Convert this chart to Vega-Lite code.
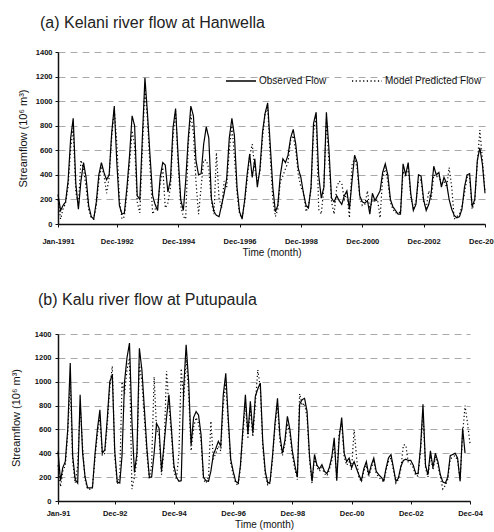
{
  "$schema": "https://vega.github.io/schema/vega-lite/v6.json",
  "background": "white",
  "padding": {"left": 10, "top": 15, "right": 0, "bottom": 0},
  "align": "none",
  "spacing": 34,
  "config": {
    "font": "Liberation Sans",
    "view": {"stroke": null},
    "axis": {
      "labelFont": "Liberation Sans", "labelFontSize": 7.5, "labelFontWeight": "bold", "labelColor": "#111",
      "titleFont": "Liberation Sans", "titleFontSize": 10, "titleFontWeight": "normal", "titleColor": "#111",
      "domainColor": "#111", "domainWidth": 1.5, "tickColor": "#111", "tickSize": 3, "labelOverlap": false
    },
    "title": {"font": "Liberation Sans", "fontSize": 16, "fontWeight": "normal", "anchor": "start", "frame": "group", "color": "#222"},
    "legend": {"labelFont": "Liberation Sans", "labelFontSize": 10, "labelColor": "#111"}
  },
  "datasets": {
    "kelani": [
      {"date":"1991-01","obs":240,"pred":200},{"date":"1991-02","obs":110,"pred":40},{"date":"1991-03","obs":150,"pred":120},{"date":"1991-04","obs":180,"pred":170},{"date":"1991-05","obs":350,"pred":300},{"date":"1991-06","obs":700,"pred":620},{"date":"1991-07","obs":860,"pred":780},{"date":"1991-08","obs":330,"pred":260},{"date":"1991-09","obs":120,"pred":150},{"date":"1991-10","obs":350,"pred":520},{"date":"1991-11","obs":500,"pred":450},{"date":"1991-12","obs":380,"pred":300},
      {"date":"1992-01","obs":150,"pred":120},{"date":"1992-02","obs":60,"pred":50},{"date":"1992-03","obs":40,"pred":40},{"date":"1992-04","obs":180,"pred":150},{"date":"1992-05","obs":400,"pred":350},{"date":"1992-06","obs":500,"pred":470},{"date":"1992-07","obs":420,"pred":400},{"date":"1992-08","obs":360,"pred":250},{"date":"1992-09","obs":400,"pred":380},{"date":"1992-10","obs":740,"pred":700},{"date":"1992-11","obs":960,"pred":930},{"date":"1992-12","obs":500,"pred":660},
      {"date":"1993-01","obs":150,"pred":200},{"date":"1993-02","obs":80,"pred":40},{"date":"1993-03","obs":90,"pred":60},{"date":"1993-04","obs":300,"pred":250},{"date":"1993-05","obs":550,"pred":480},{"date":"1993-06","obs":880,"pred":760},{"date":"1993-07","obs":800,"pred":640},{"date":"1993-08","obs":230,"pred":180},{"date":"1993-09","obs":200,"pred":90},{"date":"1993-10","obs":700,"pred":600},{"date":"1993-11","obs":1190,"pred":1100},{"date":"1993-12","obs":900,"pred":850},
      {"date":"1994-01","obs":550,"pred":450},{"date":"1994-02","obs":230,"pred":80},{"date":"1994-03","obs":160,"pred":120},{"date":"1994-04","obs":110,"pred":150},{"date":"1994-05","obs":380,"pred":330},{"date":"1994-06","obs":500,"pred":460},{"date":"1994-07","obs":480,"pred":130},{"date":"1994-08","obs":260,"pred":170},{"date":"1994-09","obs":360,"pred":300},{"date":"1994-10","obs":780,"pred":700},{"date":"1994-11","obs":940,"pred":920},{"date":"1994-12","obs":550,"pred":480},
      {"date":"1995-01","obs":200,"pred":150},{"date":"1995-02","obs":110,"pred":60},{"date":"1995-03","obs":350,"pred":40},{"date":"1995-04","obs":700,"pred":650},{"date":"1995-05","obs":960,"pred":890},{"date":"1995-06","obs":880,"pred":740},{"date":"1995-07","obs":520,"pred":350},{"date":"1995-08","obs":400,"pred":80},{"date":"1995-09","obs":410,"pred":300},{"date":"1995-10","obs":650,"pred":520},{"date":"1995-11","obs":790,"pred":520},{"date":"1995-12","obs":700,"pred":450},
      {"date":"1996-01","obs":210,"pred":180},{"date":"1996-02","obs":100,"pred":80},{"date":"1996-03","obs":70,"pred":580},{"date":"1996-04","obs":60,"pred":210},{"date":"1996-05","obs":150,"pred":130},{"date":"1996-06","obs":250,"pred":350},{"date":"1996-07","obs":370,"pred":300},{"date":"1996-08","obs":700,"pred":600},{"date":"1996-09","obs":860,"pred":800},{"date":"1996-10","obs":720,"pred":550},{"date":"1996-11","obs":300,"pred":250},{"date":"1996-12","obs":100,"pred":80},
      {"date":"1997-01","obs":40,"pred":50},{"date":"1997-02","obs":200,"pred":180},{"date":"1997-03","obs":400,"pred":350},{"date":"1997-04","obs":570,"pred":560},{"date":"1997-05","obs":380,"pred":650},{"date":"1997-06","obs":530,"pred":450},{"date":"1997-07","obs":300,"pred":350},{"date":"1997-08","obs":450,"pred":420},{"date":"1997-09","obs":750,"pred":700},{"date":"1997-10","obs":900,"pred":900},{"date":"1997-11","obs":985,"pred":950},{"date":"1997-12","obs":650,"pred":550},
      {"date":"1998-01","obs":300,"pred":200},{"date":"1998-02","obs":100,"pred":60},{"date":"1998-03","obs":150,"pred":120},{"date":"1998-04","obs":400,"pred":350},{"date":"1998-05","obs":530,"pred":390},{"date":"1998-06","obs":500,"pred":450},{"date":"1998-07","obs":560,"pred":500},{"date":"1998-08","obs":700,"pred":680},{"date":"1998-09","obs":770,"pred":720},{"date":"1998-10","obs":650,"pred":600},{"date":"1998-11","obs":450,"pred":400},{"date":"1998-12","obs":380,"pred":300},
      {"date":"1999-01","obs":250,"pred":260},{"date":"1999-02","obs":150,"pred":100},{"date":"1999-03","obs":130,"pred":150},{"date":"1999-04","obs":300,"pred":280},{"date":"1999-05","obs":820,"pred":750},{"date":"1999-06","obs":910,"pred":880},{"date":"1999-07","obs":400,"pred":120},{"date":"1999-08","obs":210,"pred":80},{"date":"1999-09","obs":300,"pred":300},{"date":"1999-10","obs":910,"pred":850},{"date":"1999-11","obs":600,"pred":500},{"date":"1999-12","obs":210,"pred":180},
      {"date":"2000-01","obs":180,"pred":80},{"date":"2000-02","obs":230,"pred":300},{"date":"2000-03","obs":190,"pred":350},{"date":"2000-04","obs":160,"pred":330},{"date":"2000-05","obs":230,"pred":200},{"date":"2000-06","obs":270,"pred":250},{"date":"2000-07","obs":120,"pred":50},{"date":"2000-08","obs":350,"pred":480},{"date":"2000-09","obs":560,"pred":540},{"date":"2000-10","obs":500,"pred":450},{"date":"2000-11","obs":230,"pred":220},{"date":"2000-12","obs":180,"pred":150},
      {"date":"2001-01","obs":170,"pred":160},{"date":"2001-02","obs":190,"pred":270},{"date":"2001-03","obs":80,"pred":120},{"date":"2001-04","obs":250,"pred":200},{"date":"2001-05","obs":190,"pred":180},{"date":"2001-06","obs":230,"pred":200},{"date":"2001-07","obs":270,"pred":50},{"date":"2001-08","obs":420,"pred":380},{"date":"2001-09","obs":490,"pred":460},{"date":"2001-10","obs":400,"pred":350},{"date":"2001-11","obs":200,"pred":180},{"date":"2001-12","obs":140,"pred":120},
      {"date":"2002-01","obs":110,"pred":90},{"date":"2002-02","obs":80,"pred":100},{"date":"2002-03","obs":80,"pred":90},{"date":"2002-04","obs":490,"pred":430},{"date":"2002-05","obs":400,"pred":380},{"date":"2002-06","obs":500,"pred":470},{"date":"2002-07","obs":250,"pred":220},{"date":"2002-08","obs":110,"pred":130},{"date":"2002-09","obs":160,"pred":180},{"date":"2002-10","obs":400,"pred":350},{"date":"2002-11","obs":390,"pred":360},{"date":"2002-12","obs":200,"pred":180},
      {"date":"2003-01","obs":110,"pred":130},{"date":"2003-02","obs":160,"pred":270},{"date":"2003-03","obs":250,"pred":200},{"date":"2003-04","obs":470,"pred":400},{"date":"2003-05","obs":400,"pred":380},{"date":"2003-06","obs":420,"pred":400},{"date":"2003-07","obs":300,"pred":320},{"date":"2003-08","obs":380,"pred":350},{"date":"2003-09","obs":330,"pred":300},{"date":"2003-10","obs":200,"pred":460},{"date":"2003-11","obs":120,"pred":300},{"date":"2003-12","obs":70,"pred":40},
      {"date":"2004-01","obs":50,"pred":60},{"date":"2004-02","obs":60,"pred":80},{"date":"2004-03","obs":120,"pred":140},{"date":"2004-04","obs":300,"pred":250},{"date":"2004-05","obs":400,"pred":380},{"date":"2004-06","obs":410,"pred":380},{"date":"2004-07","obs":140,"pred":120},{"date":"2004-08","obs":200,"pred":180},{"date":"2004-09","obs":520,"pred":500},{"date":"2004-10","obs":620,"pred":765},{"date":"2004-11","obs":480,"pred":520},{"date":"2004-12","obs":250,"pred":260}
    ],
    "kalu": [
      {"date":"1991-01","obs":416,"pred":300},{"date":"1991-02","obs":170,"pred":120},{"date":"1991-03","obs":280,"pred":250},{"date":"1991-04","obs":330,"pred":300},{"date":"1991-05","obs":600,"pred":560},{"date":"1991-06","obs":1156,"pred":1000},{"date":"1991-07","obs":380,"pred":330},{"date":"1991-08","obs":180,"pred":150},{"date":"1991-09","obs":150,"pred":300},{"date":"1991-10","obs":890,"pred":800},{"date":"1991-11","obs":400,"pred":450},{"date":"1991-12","obs":200,"pred":180},
      {"date":"1992-01","obs":110,"pred":100},{"date":"1992-02","obs":110,"pred":100},{"date":"1992-03","obs":110,"pred":120},{"date":"1992-04","obs":390,"pred":350},{"date":"1992-05","obs":600,"pred":560},{"date":"1992-06","obs":765,"pred":700},{"date":"1992-07","obs":400,"pred":380},{"date":"1992-08","obs":430,"pred":400},{"date":"1992-09","obs":700,"pred":650},{"date":"1992-10","obs":1000,"pred":950},{"date":"1992-11","obs":1060,"pred":1130},{"date":"1992-12","obs":420,"pred":380},
      {"date":"1993-01","obs":160,"pred":140},{"date":"1993-02","obs":150,"pred":200},{"date":"1993-03","obs":380,"pred":1000},{"date":"1993-04","obs":1000,"pred":900},{"date":"1993-05","obs":1200,"pred":1100},{"date":"1993-06","obs":1324,"pred":1200},{"date":"1993-07","obs":670,"pred":100},{"date":"1993-08","obs":240,"pred":200},{"date":"1993-09","obs":400,"pred":350},{"date":"1993-10","obs":1280,"pred":1150},{"date":"1993-11","obs":1100,"pred":1000},{"date":"1993-12","obs":780,"pred":700},
      {"date":"1994-01","obs":450,"pred":400},{"date":"1994-02","obs":200,"pred":180},{"date":"1994-03","obs":200,"pred":300},{"date":"1994-04","obs":400,"pred":1040},{"date":"1994-05","obs":650,"pred":600},{"date":"1994-06","obs":610,"pred":550},{"date":"1994-07","obs":250,"pred":220},{"date":"1994-08","obs":470,"pred":430},{"date":"1994-09","obs":700,"pred":1090},{"date":"1994-10","obs":890,"pred":800},{"date":"1994-11","obs":600,"pred":550},{"date":"1994-12","obs":300,"pred":250},
      {"date":"1995-01","obs":200,"pred":180},{"date":"1995-02","obs":165,"pred":400},{"date":"1995-03","obs":170,"pred":1110},{"date":"1995-04","obs":950,"pred":850},{"date":"1995-05","obs":1310,"pred":1200},{"date":"1995-06","obs":1000,"pred":900},{"date":"1995-07","obs":470,"pred":420},{"date":"1995-08","obs":700,"pred":620},{"date":"1995-09","obs":750,"pred":700},{"date":"1995-10","obs":720,"pred":650},{"date":"1995-11","obs":556,"pred":500},{"date":"1995-12","obs":200,"pred":180},
      {"date":"1996-01","obs":170,"pred":150},{"date":"1996-02","obs":165,"pred":200},{"date":"1996-03","obs":250,"pred":670},{"date":"1996-04","obs":390,"pred":350},{"date":"1996-05","obs":440,"pred":400},{"date":"1996-06","obs":500,"pred":460},{"date":"1996-07","obs":460,"pred":420},{"date":"1996-08","obs":890,"pred":800},{"date":"1996-09","obs":1070,"pred":1000},{"date":"1996-10","obs":700,"pred":650},{"date":"1996-11","obs":350,"pred":320},{"date":"1996-12","obs":250,"pred":220},
      {"date":"1997-01","obs":165,"pred":150},{"date":"1997-02","obs":150,"pred":130},{"date":"1997-03","obs":300,"pred":280},{"date":"1997-04","obs":610,"pred":560},{"date":"1997-05","obs":890,"pred":820},{"date":"1997-06","obs":560,"pred":520},{"date":"1997-07","obs":835,"pred":780},{"date":"1997-08","obs":570,"pred":540},{"date":"1997-09","obs":880,"pred":820},{"date":"1997-10","obs":940,"pred":1100},{"date":"1997-11","obs":990,"pred":950},{"date":"1997-12","obs":500,"pred":460},
      {"date":"1998-01","obs":250,"pred":220},{"date":"1998-02","obs":150,"pred":130},{"date":"1998-03","obs":160,"pred":150},{"date":"1998-04","obs":380,"pred":350},{"date":"1998-05","obs":650,"pred":625},{"date":"1998-06","obs":860,"pred":800},{"date":"1998-07","obs":550,"pred":500},{"date":"1998-08","obs":400,"pred":380},{"date":"1998-09","obs":510,"pred":480},{"date":"1998-10","obs":710,"pred":650},{"date":"1998-11","obs":600,"pred":560},{"date":"1998-12","obs":420,"pred":380},
      {"date":"1999-01","obs":300,"pred":270},{"date":"1999-02","obs":200,"pred":180},{"date":"1999-03","obs":810,"pred":900},{"date":"1999-04","obs":850,"pred":800},{"date":"1999-05","obs":860,"pred":820},{"date":"1999-06","obs":750,"pred":700},{"date":"1999-07","obs":380,"pred":350},{"date":"1999-08","obs":165,"pred":150},{"date":"1999-09","obs":390,"pred":360},{"date":"1999-10","obs":300,"pred":280},{"date":"1999-11","obs":270,"pred":250},{"date":"1999-12","obs":305,"pred":280},
      {"date":"2000-01","obs":250,"pred":230},{"date":"2000-02","obs":230,"pred":210},{"date":"2000-03","obs":280,"pred":260},{"date":"2000-04","obs":370,"pred":340},{"date":"2000-05","obs":530,"pred":480},{"date":"2000-06","obs":170,"pred":200},{"date":"2000-07","obs":530,"pred":570},{"date":"2000-08","obs":700,"pred":650},{"date":"2000-09","obs":400,"pred":370},{"date":"2000-10","obs":330,"pred":300},{"date":"2000-11","obs":360,"pred":330},{"date":"2000-12","obs":280,"pred":260},
      {"date":"2001-01","obs":330,"pred":600},{"date":"2001-02","obs":270,"pred":360},{"date":"2001-03","obs":220,"pred":200},{"date":"2001-04","obs":170,"pred":160},{"date":"2001-05","obs":270,"pred":250},{"date":"2001-06","obs":330,"pred":300},{"date":"2001-07","obs":220,"pred":200},{"date":"2001-08","obs":300,"pred":280},{"date":"2001-09","obs":360,"pred":330},{"date":"2001-10","obs":250,"pred":230},{"date":"2001-11","obs":220,"pred":200},{"date":"2001-12","obs":200,"pred":180},
      {"date":"2002-01","obs":170,"pred":160},{"date":"2002-02","obs":280,"pred":260},{"date":"2002-03","obs":360,"pred":330},{"date":"2002-04","obs":390,"pred":360},{"date":"2002-05","obs":280,"pred":260},{"date":"2002-06","obs":165,"pred":150},{"date":"2002-07","obs":190,"pred":180},{"date":"2002-08","obs":290,"pred":270},{"date":"2002-09","obs":340,"pred":470},{"date":"2002-10","obs":350,"pred":470},{"date":"2002-11","obs":340,"pred":320},{"date":"2002-12","obs":340,"pred":310},
      {"date":"2003-01","obs":300,"pred":280},{"date":"2003-02","obs":230,"pred":210},{"date":"2003-03","obs":230,"pred":210},{"date":"2003-04","obs":450,"pred":420},{"date":"2003-05","obs":810,"pred":740},{"date":"2003-06","obs":300,"pred":280},{"date":"2003-07","obs":220,"pred":200},{"date":"2003-08","obs":420,"pred":380},{"date":"2003-09","obs":280,"pred":260},{"date":"2003-10","obs":400,"pred":370},{"date":"2003-11","obs":330,"pred":300},{"date":"2003-12","obs":220,"pred":200},
      {"date":"2004-01","obs":160,"pred":100},{"date":"2004-02","obs":150,"pred":130},{"date":"2004-03","obs":200,"pred":180},{"date":"2004-04","obs":380,"pred":350},{"date":"2004-05","obs":390,"pred":370},{"date":"2004-06","obs":400,"pred":380},{"date":"2004-07","obs":360,"pred":340},{"date":"2004-08","obs":165,"pred":180},{"date":"2004-09","obs":610,"pred":560},{"date":"2004-10","obs":400,"pred":800},{"date":"2004-11","obs":null,"pred":650},{"date":"2004-12","obs":null,"pred":480}
    ]
  },
  "vconcat": [
    {
      "data": {"name": "kelani"},
      "title": {"text": "(a) Kelani river flow at Hanwella", "dx": -18, "offset": 17},
      "width": 427,
      "height": 172,
      "transform": [{"fold": ["obs", "pred"], "as": ["series", "flow"]}],
      "mark": {"type": "line", "color": "black", "strokeWidth": 1.2},
      "encoding": {
        "x": {
          "field": "date", "type": "temporal", "timeUnit": "utcyearmonth",
          "scale": {"domain": [{"year": 1991, "month": 1, "utc": true}, {"year": 2004, "month": 12, "utc": true}]},
          "axis": {
            "values": [{"year": 1991, "month": 1, "utc": true}, {"year": 1992, "month": 12, "utc": true}, {"year": 1994, "month": 12, "utc": true}, {"year": 1996, "month": 12, "utc": true}, {"year": 1998, "month": 12, "utc": true}, {"year": 2000, "month": 12, "utc": true}, {"year": 2002, "month": 12, "utc": true}, {"year": 2004, "month": 12, "utc": true}],
            "format": "%b-%Y", "title": "Time (month)", "grid": false, "labelFlush": false, "labelPadding": 10, "titlePadding": 3
          }
        },
        "y": {
          "field": "flow", "type": "quantitative",
          "scale": {"domain": [0, 1400], "nice": false},
          "axis": {
            "values": [0, 200, 400, 600, 800, 1000, 1200, 1400], "format": "d",
            "title": "Streamflow (10⁶ m³)", "titleFontSize": 11, "grid": true, "gridDash": [7, 5], "gridColor": "#aaa",
            "labelPadding": 3, "titlePadding": 7
          }
        },
        "strokeDash": {
          "field": "series", "type": "nominal",
          "scale": {"domain": ["obs", "pred"], "range": [[1, 0], [1.2, 2.5]]},
          "legend": {
            "orient": "none", "legendX": 167, "legendY": 13, "direction": "horizontal", "title": null,
            "labelExpr": "datum.label == 'obs' ? 'Observed Flow' : 'Model Predicted Flow'",
            "symbolType": "stroke", "symbolSize": 900, "symbolStrokeWidth": 1.5, "symbolStrokeColor": "black",
            "columnPadding": 22, "labelOffset": 2
          }
        }
      }
    },
    {
      "data": {"name": "kalu"},
      "title": {"text": "(b) Kalu river flow at Putupaula", "dx": -20, "offset": 22},
      "width": 412,
      "height": 167,
      "transform": [{"fold": ["obs", "pred"], "as": ["series", "flow"]}],
      "mark": {"type": "line", "color": "black", "strokeWidth": 1.2},
      "encoding": {
        "x": {
          "field": "date", "type": "temporal", "timeUnit": "utcyearmonth",
          "scale": {"domain": [{"year": 1991, "month": 1, "utc": true}, {"year": 2004, "month": 12, "utc": true}]},
          "axis": {
            "values": [{"year": 1991, "month": 1, "utc": true}, {"year": 1992, "month": 12, "utc": true}, {"year": 1994, "month": 12, "utc": true}, {"year": 1996, "month": 12, "utc": true}, {"year": 1998, "month": 12, "utc": true}, {"year": 2000, "month": 12, "utc": true}, {"year": 2002, "month": 12, "utc": true}, {"year": 2004, "month": 12, "utc": true}],
            "format": "%b-%y", "title": "Time (month)", "grid": false, "labelFlush": false, "labelPadding": 5, "titlePadding": 3
          }
        },
        "y": {
          "field": "flow", "type": "quantitative",
          "scale": {"domain": [0, 1400], "nice": false},
          "axis": {
            "values": [0, 200, 400, 600, 800, 1000, 1200, 1400], "format": "d",
            "title": "Streamflow (10⁶ m³)", "titleFontSize": 11, "grid": true, "gridDash": [7, 5], "gridColor": "#aaa",
            "labelPadding": 4, "titlePadding": 13
          }
        },
        "strokeDash": {
          "field": "series", "type": "nominal",
          "scale": {"domain": ["obs", "pred"], "range": [[1, 0], [1.2, 2.5]]},
          "legend": {
            "orient": "none", "legendX": 168, "legendY": 8, "direction": "horizontal", "title": null,
            "labelExpr": "datum.label == 'obs' ? 'Observed Flow' : 'Model Predicted Flow'",
            "symbolType": "stroke", "symbolSize": 700, "symbolStrokeWidth": 1.5, "symbolStrokeColor": "black",
            "columnPadding": 10, "labelOffset": 2
          }
        }
      }
    }
  ]
}
